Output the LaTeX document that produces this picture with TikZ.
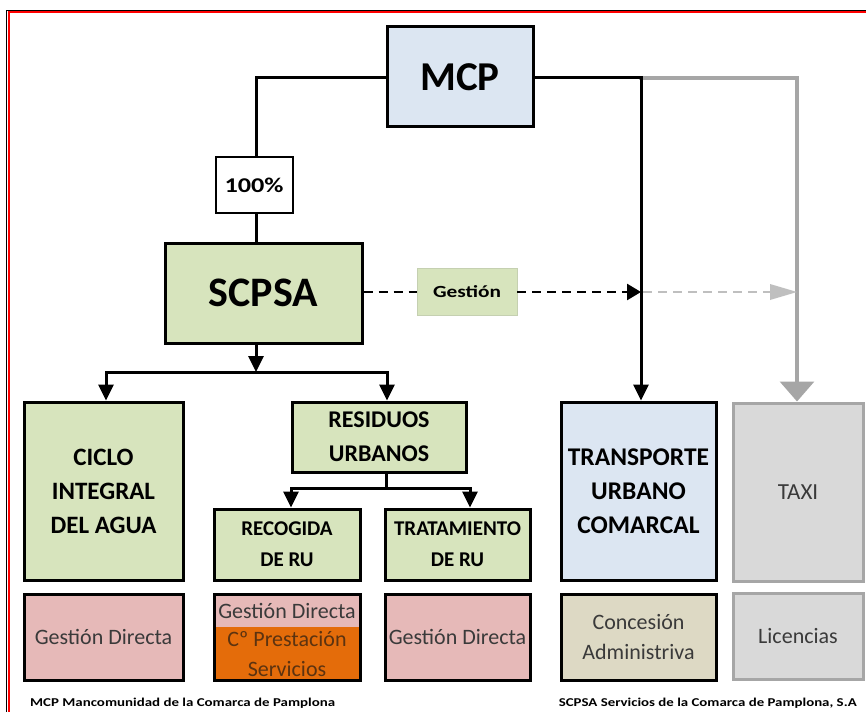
\documentclass[tikz,border=0pt]{standalone}
\usepackage{fontspec}
\setmainfont{Carlito}
\usetikzlibrary{arrows.meta}
\definecolor{cblue}{HTML}{DCE6F2}
\definecolor{cgreen}{HTML}{D7E4BD}
\definecolor{cpink}{HTML}{E6B9B8}
\definecolor{corange}{HTML}{E46C0A}
\definecolor{cbeige}{HTML}{DDD9C4}
\definecolor{cgray}{HTML}{D9D9D9}
\definecolor{cgrayline}{HTML}{A6A6A6}
\definecolor{cgraydash}{HTML}{BFBFBF}
\definecolor{ctext}{HTML}{3A3A3A}
\definecolor{cbrown}{HTML}{5C3310}
\tikzset{
  box/.style={draw=black, line width=3pt, inner sep=0pt, align=center},
  graybox/.style={draw=cgrayline, line width=3pt, inner sep=0pt, align=center, fill=cgray},
  conn/.style={line width=3pt, line cap=rect},
  arr/.style={-{Triangle[width=15pt,length=16pt]}},
  bottomtxt/.style={font=\fontsize{22}{30}\selectfont, text=ctext},
}
\begin{document}
\begin{tikzpicture}[x=1pt,y=-1pt]
\useasboundingbox (0,0) rectangle (866,711);
\fill[white] (0,0) rectangle (866,711);
% frame
\draw[black, line width=1pt] (6.5,720) -- (6.5,10.5) -- (875,10.5);
\draw[red, line width=2pt] (8.5,720) -- (8.5,12.5) -- (875,12.5);

% nodes
\node[box, fill=cblue, minimum width=146pt, minimum height=100pt, font=\fontsize{41}{41}\selectfont\bfseries] (mcp) at (460,77) {MCP};
\node[draw=black, line width=2pt, fill=white, inner sep=0pt, minimum width=77pt, minimum height=56pt] (pct) at (254,185) {\resizebox{59pt}{\height}{\fontsize{21}{21}\selectfont\bfseries 100\%}};
\node[box, fill=cgreen, minimum width=197pt, minimum height=100pt, font=\fontsize{42}{42}\selectfont\bfseries] (scpsa) at (263.5,293) {SCPSA};
\node[fill=cgreen, draw=cgreen!80!gray, line width=0.6pt, inner sep=0pt, minimum width=100pt, minimum height=47pt] (gest) at (467,291.5) {\resizebox{68pt}{\height}{\fontsize{17}{17}\selectfont\bfseries Gestión}};

\node[box, fill=cgreen, minimum width=159pt, minimum height=178pt, font=\fontsize{25}{34}\selectfont\bfseries] (ciclo) at (103.5,491) {CICLO\\INTEGRAL\\DEL AGUA};
\node[box, fill=cgreen, minimum width=174pt, minimum height=70pt, font=\fontsize{24}{34}\selectfont\bfseries] (resid) at (379,437) {RESIDUOS\\URBANOS};
\node[box, fill=cgreen, minimum width=146pt, minimum height=71pt, font=\fontsize{21}{31}\selectfont\bfseries] (recog) at (287,544.5) {RECOGIDA\\DE RU};
\node[box, fill=cgreen, minimum width=145pt, minimum height=71pt, font=\fontsize{21}{31}\selectfont\bfseries] (trat) at (457.5,544.5) {TRATAMIENTO\\DE RU};
\node[box, fill=cblue, minimum width=155pt, minimum height=178pt, font=\fontsize{25.5}{34}\selectfont\bfseries] (transp) at (638.5,491) {TRANSPORTE\\URBANO\\COMARCAL};
\node[graybox, minimum width=130pt, minimum height=178pt, font=\fontsize{23}{23}\selectfont, text=ctext] (taxi) at (798,492) {TAXI};

% bottom row
\node[box, fill=cpink, minimum width=159pt, minimum height=86pt, bottomtxt] (g1) at (103.5,637) {Gestión Directa};
\fill[cpink] (214,594) rectangle (360,627);
\fill[corange] (214,627) rectangle (360,680);
\node[bottomtxt, inner sep=0pt] (g2a) at (287,611) {Gestión Directa};
\node[font=\fontsize{22}{30}\selectfont, text=cbrown, align=center, inner sep=0pt] (g2b) at (287,654) {Cº Prestación\\Servicios};
\draw[line width=3pt] (214,594) rectangle (360,680);
\node[box, fill=cpink, minimum width=145pt, minimum height=86pt, bottomtxt] (g3) at (457.5,637) {Gestión Directa};
\node[box, fill=cbeige, minimum width=155pt, minimum height=86pt, bottomtxt, align=center] (conc) at (638.5,637) {Concesión\\Administriva};
\node[graybox, minimum width=130pt, minimum height=86pt, bottomtxt] (lic) at (798,636.5) {Licencias};

% footer
\node[anchor=west, inner sep=0pt] (f1) at (30,703) {\resizebox{305pt}{\height}{\fontsize{12}{12}\selectfont\bfseries MCP Mancomunidad de la Comarca de Pamplona}};
\node[anchor=east, inner sep=0pt] (f2) at (857,703) {\resizebox{298pt}{\height}{\fontsize{12}{12}\selectfont\bfseries SCPSA Servicios de la Comarca de Pamplona, S.A}};

% coordinates
\coordinate (tl) at (256,78);
\coordinate (tr) at (641,78);
\coordinate (tg) at (797,78);
\coordinate (sb) at (256,372);
\coordinate (hl) at (106,372);
\coordinate (hr) at (387,372);
\coordinate (rb) at (386,488);
\coordinate (rl) at (291,488);
\coordinate (rr) at (470,488);
\coordinate (dy) at (0,292);
\coordinate (dt) at (641,292);
\coordinate (gs) at (643,292);
\coordinate (ge) at (775,292);

% connectors
\draw[conn] (mcp.west |- tl) -- (tl) -- (tl |- pct.north);
\draw[conn] (tl |- pct.south) -- (tl |- scpsa.north);
\draw[conn, cgrayline, line width=3.2pt] (tr) -- (tg) -- ++(0,305);
\draw[cgrayline, -{Triangle[width=34pt,length=20pt]}, line width=3.2pt] (797,382) -- (tg |- taxi.north);
\draw[conn, arr] (mcp.east |- tr) -- (tr) -- (tr |- transp.north);

% SCPSA down
\draw[conn, arr, line cap=butt] (tl |- scpsa.south) -- (sb);
\draw[conn] (hl) -- (hr);
\draw[conn, arr, line cap=butt] (hl) -- (hl |- ciclo.north);
\draw[conn, arr, line cap=butt] (hr) -- (hr |- resid.north);

% RESIDUOS down
\draw[conn] (rb |- resid.south) -- (rb);
\draw[conn] (rl) -- (rr);
\draw[conn, arr, line cap=butt] (rl) -- (rl |- recog.north);
\draw[conn, arr, line cap=butt] (rr) -- (rr |- trat.north);

% dashed gestion
\draw[line width=2.7pt, dash pattern=on 9pt off 6pt] (scpsa.east |- dy) -- (gest.west |- dy);
\draw[line width=2.7pt, dash pattern=on 9pt off 6pt, -{Triangle[width=16pt,length=14pt]}] (gest.east |- dy) -- (dt);
\draw[cgraydash, line width=2.7pt, dash pattern=on 9pt off 6pt] (gs) -- (ge);
\fill[cgraydash] (770,284) -- (797,292) -- (770,300) -- cycle;
\end{tikzpicture}
\end{document}
